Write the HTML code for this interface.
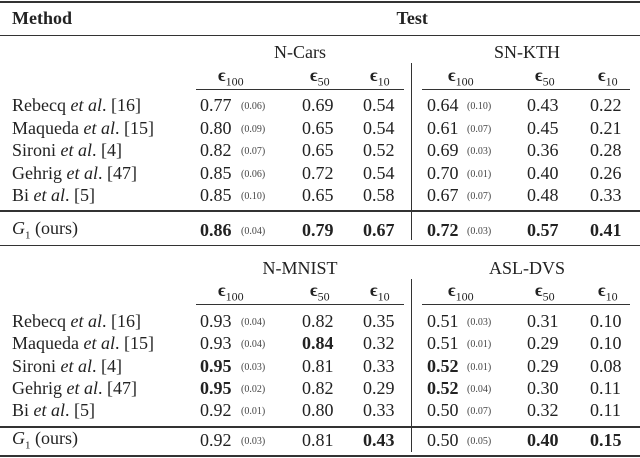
<!DOCTYPE html>
<html><head><meta charset="utf-8">
<style>
body{margin:0;background:#fff;}
#t{position:relative;width:640px;height:458px;overflow:hidden;font-family:"Liberation Serif",serif;color:#222;font-size:18px;}
#t div{position:absolute;white-space:nowrap;line-height:1;}
.r{position:absolute;background:#333;}
.b{font-weight:bold;}
.p{font-size:10px;color:#444;}
</style></head><body>
<div id="t"></div>
<script>
const methods=["Rebecq <i>et al</i>. [16]","Maqueda <i>et al</i>. [15]","Sironi <i>et al</i>. [4]","Gehrig <i>et al</i>. [47]","Bi <i>et al</i>. [5]","<i>G</i><sub style='font-size:11px'>1</sub> (ours)"];
const datasets=[["N-Cars","SN-KTH"],["N-MNIST","ASL-DVS"]];
const e100=[[[0.77,0.69,0.54,0.64,0.43,0.22],[0.80,0.65,0.54,0.61,0.45,0.21],[0.82,0.65,0.52,0.69,0.36,0.28],[0.85,0.72,0.54,0.70,0.40,0.26],[0.85,0.65,0.58,0.67,0.48,0.33],[0.86,0.79,0.67,0.72,0.57,0.41]],
[[0.93,0.82,0.35,0.51,0.31,0.10],[0.93,0.84,0.32,0.51,0.29,0.10],[0.95,0.81,0.33,0.52,0.29,0.08],[0.95,0.82,0.29,0.52,0.30,0.11],[0.92,0.80,0.33,0.50,0.32,0.11],[0.92,0.81,0.43,0.50,0.40,0.15]]];
const stds=[[[0.06,0.10],[0.09,0.07],[0.07,0.03],[0.06,0.01],[0.10,0.07],[0.04,0.03]],[[0.04,0.03],[0.04,0.01],[0.03,0.01],[0.02,0.04],[0.01,0.07],[0.03,0.05]]];
const bold=[[[0,0,0,0,0,0],[0,0,0,0,0,0],[0,0,0,0,0,0],[0,0,0,0,0,0],[0,0,0,0,0,0],[1,1,1,1,1,1]],
[[0,0,0,0,0,0],[0,1,0,0,0,0],[1,0,0,1,0,0],[1,0,0,1,0,0],[0,0,0,0,0,0],[0,0,1,0,1,1]]];
const t=document.getElementById('t');
function add(html,x,y,cls,name,anchor){const d=document.createElement('div');d.innerHTML=html;if(cls)d.className=cls;


t.appendChild(d);let w=d.offsetWidth;let h=d.offsetHeight;
let lx=anchor==='c'?x-w/2:x;d.style.left=lx+'px';d.style.top=(y-h/2)+'px';return d;}
function rule(x,y,w,h,name){const d=document.createElement('div');d.className='r';d.style.left=x+'px';d.style.top=y+'px';d.style.width=w+'px';d.style.height=h+'px';


t.appendChild(d);}
rule(0,1,640,2,'top-rule');
add('<b>Method</b>',12,18,'','method-header');
add('<b>Test</b>',412,18,'','test-header','c');
rule(0,35,640,1.3,'header-rule');
const colX=[200,302,363,427,527,590];
const epsX=[231,320,380,461,545,608];
const epsL=['100','50','10','100','50','10'];
const blocks=[{top:52,eps:77,mid:89,rows:[105,128,150,173,195],r1:211,g:230,r2:246,vt:63,vb:240},
{top:268,eps:292,mid:304,rows:[321,343,366,388,410],r1:427,g:440,r2:456,vt:279,vb:452}];
blocks.forEach((B,bi)=>{
 add(datasets[bi][0],300,B.top,'','dataset-title-'+datasets[bi][0].toLowerCase(),'c');
 add(datasets[bi][1],527,B.top,'','dataset-title-'+datasets[bi][1].toLowerCase(),'c');
 epsL.forEach((l,i)=>add('<b>ϵ</b><sub style="font-size:12px">'+l+'</sub>',epsX[i],B.eps,'','epsilon-'+l+'-header','c'));
 rule(196,B.mid,208,1,'cmidrule-left');rule(422,B.mid,208,1,'cmidrule-right');
 rule(411,B.vt,1,B.vb-B.vt,'column-separator');
 const ys=B.rows.concat([B.g]);
 ys.forEach((y,ri)=>{
  add(methods[ri],12,y,'','method-name');
  e100[bi][ri].forEach((v,ci)=>{
   add(v.toFixed(2),colX[ci],y,bold[bi][ri][ci]?'b':'','value-cell');
  });
  add('('+stds[bi][ri][0].toFixed(2)+')',241,y+2,'p','std-cell');
  add('('+stds[bi][ri][1].toFixed(2)+')',467,y+2,'p','std-cell');
 });
 rule(0,B.r1-1,640,1.5,'mid-rule');
 rule(0,B.r2-1,640,bi?2:1.3,bi?'bottom-rule':'block-rule');
});
</script>
</body></html>
